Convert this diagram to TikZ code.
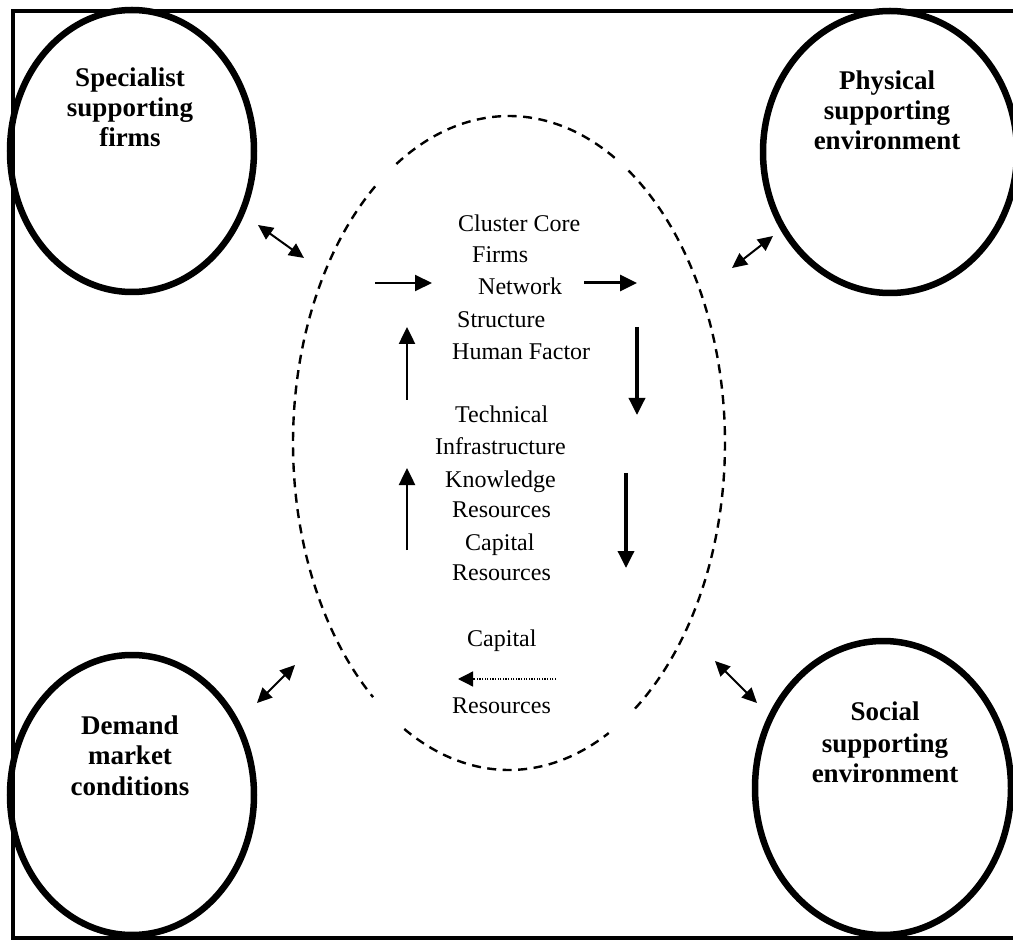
\documentclass[tikz,border=0pt]{standalone}
\usepackage{fontspec}
\setmainfont{Liberation Serif}
\usetikzlibrary{shapes.geometric,arrows.meta}

\begin{document}
\begin{tikzpicture}[x=1pt,y=1pt,
  outer/.style={draw, ellipse, line width=6.5pt, inner sep=0pt},
  olabel/.style={anchor=base, inner sep=0pt, font=\bfseries\fontsize{27}{30}\selectfont},
  core/.style={anchor=base west, inner sep=0pt, font=\fontsize{24}{32}\selectfont},
  coreline/.style={line width=2.4pt, dash pattern=on 9pt off 6.5pt},
  link/.style={line width=2pt, {Triangle[length=15pt,width=14pt]}-{Triangle[length=15pt,width=14pt]}},
  flow/.style={line width=#1, -{Triangle[length=17pt,width=16pt]}},
]
\useasboundingbox (0,0) rectangle (1013,-941);
\clip (0,0) rectangle (1013,-941);

% frame
\draw[line width=4.5pt] (13,-11) rectangle (1040,-938);

% outer environments
\node[outer, minimum width=244pt, minimum height=282pt] (spec)   at (132,-151) {};
\node[outer, minimum width=254pt, minimum height=282pt] (phys)   at (890,-152) {};
\node[outer, minimum width=244pt, minimum height=280pt] (demand) at (132,-795) {};
\node[outer, minimum width=256pt, minimum height=294pt] (social) at (883,-788) {};

\node[olabel] (spec1) at (130,-87)  {Specialist};
\node[olabel] (spec2) at (130,-117) {supporting};
\node[olabel] (spec3) at (130,-147) {firms};

\node[olabel] (phys1) at (887,-90)  {Physical};
\node[olabel] (phys2) at (887,-120) {supporting};
\node[olabel] (phys3) at (887,-150) {environment};

\node[olabel] (dem1) at (130,-734) {Demand};
\node[olabel] (dem2) at (130,-764) {market};
\node[olabel] (dem3) at (130,-795) {conditions};

\node[olabel] (soc1) at (885,-720) {Social};
\node[olabel] (soc2) at (885,-752) {supporting};
\node[olabel] (soc3) at (885,-782) {environment};

% dashed cluster core boundary, broken at four places
\coordinate (c) at (509,-443);
\draw[coreline] (c) ++(60.7:216pt and 327pt)  arc[start angle=60.7,  end angle=122,   x radius=216pt, y radius=327pt];
\draw[coreline] (c) ++(128.3:216pt and 327pt) arc[start angle=128.3, end angle=231,   x radius=216pt, y radius=327pt];
\draw[coreline] (c) ++(241:216pt and 327pt)   arc[start angle=241,   end angle=297.5, x radius=216pt, y radius=327pt];
\draw[coreline] (c) ++(305.7:216pt and 327pt) arc[start angle=305.7, end angle=416.5, x radius=216pt, y radius=327pt];

% cluster core contents
\node[core] (t1)  at (458,-232) {Cluster Core};
\node[core] (t2)  at (472,-263) {Firms};
\node[core] (t3)  at (478,-295) {Network};
\node[core] (t4)  at (457,-328) {Structure};
\node[core] (t5)  at (452,-360) {Human Factor};
\node[core] (t6)  at (455,-423) {Technical};
\node[core] (t7)  at (435,-455) {Infrastructure};
\node[core] (t8)  at (445,-487) {Knowledge};
\node[core] (t9)  at (452,-518) {Resources};
\node[core] (t10) at (465,-550) {Capital};
\node[core] (t11) at (452,-580) {Resources};
\node[core] (t12) at (467,-646) {Capital};
\node[core] (t13) at (452,-713) {Resources};

% circulation inside the core
\coordinate (a1s) at (375,-283); \coordinate (a1e) at (432,-283);
\coordinate (a2s) at (584,-283); \coordinate (a2e) at (637,-283);
\coordinate (a3s) at (637,-327); \coordinate (a3e) at (637,-415);
\coordinate (a4s) at (626,-473); \coordinate (a4e) at (626,-568);
\coordinate (a5s) at (407,-550); \coordinate (a5e) at (407,-468);
\coordinate (a6s) at (407,-400); \coordinate (a6e) at (407,-327);
\coordinate (a7s) at (556,-679); \coordinate (a7e) at (458,-679);

\draw[flow=2pt] (a1s) -- (a1e);
\draw[flow=3pt] (a2s) -- (a2e);
\draw[flow=3.5pt] (a3s) -- (a3e);
\draw[flow=3.5pt] (a4s) -- (a4e);
\draw[flow=2.5pt] (a5s) -- (a5e);
\draw[flow=2.5pt] (a6s) -- (a6e);
\draw[line width=1.3pt, dash pattern=on 1.3pt off 1.3pt, -{Triangle[length=15pt,width=15pt]}] (a7s) -- (a7e);

% links between the core and its environments
\coordinate (l1a) at (258,-225); \coordinate (l1b) at (304,-258);
\coordinate (l2a) at (732,-268); \coordinate (l2b) at (773,-236);
\coordinate (l3a) at (257,-703); \coordinate (l3b) at (295,-665);
\coordinate (l4a) at (715,-661); \coordinate (l4b) at (757,-703);
\draw[link] (l1a) -- (l1b);
\draw[link] (l2a) -- (l2b);
\draw[link] (l3a) -- (l3b);
\draw[link] (l4a) -- (l4b);
\end{tikzpicture}
\end{document}
